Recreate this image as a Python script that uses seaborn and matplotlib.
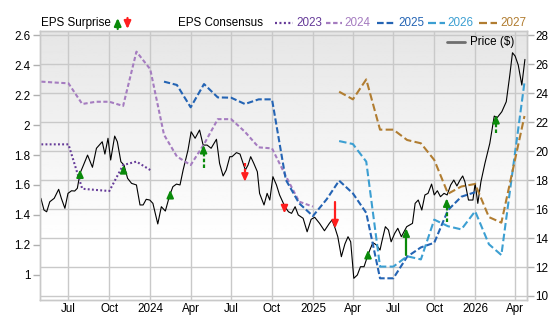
import numpy as np
import pandas as pd
import matplotlib
matplotlib.use('Agg')
import matplotlib.pyplot as plt
from matplotlib.lines import Line2D
import seaborn as sns

sns.set_style('white')
plt.rcParams['font.family'] = ['Liberation Sans', 'DejaVu Sans']
plt.rcParams['font.size'] = 8.4

# ---------------- data ----------------
price_dates = ['2023-04-30','2023-05-07','2023-05-13','2023-05-20','2023-05-30','2023-06-09','2023-06-15','2023-06-23','2023-06-30',
 '2023-07-08','2023-07-15','2023-07-21','2023-07-27','2023-08-03','2023-08-13','2023-08-24','2023-09-02','2023-09-15','2023-09-21','2023-09-28',
 '2023-10-04','2023-10-13','2023-10-19','2023-10-27','2023-11-03','2023-11-11','2023-11-20','2023-12-01','2023-12-09','2023-12-16','2023-12-23','2023-12-31',
 '2024-01-07','2024-01-18','2024-01-26','2024-02-04','2024-02-14','2024-02-21','2024-02-29','2024-03-08','2024-03-15','2024-03-26',
 '2024-04-02','2024-04-11','2024-04-21','2024-04-29','2024-05-08','2024-05-17','2024-05-29','2024-06-05','2024-06-13','2024-06-20','2024-06-28',
 '2024-07-03','2024-07-13','2024-07-21','2024-07-28','2024-08-02','2024-08-08','2024-08-14','2024-08-21','2024-08-29',
 '2024-09-03','2024-09-13','2024-09-20','2024-09-26','2024-10-03','2024-10-11','2024-10-18','2024-10-30',
 '2024-11-07','2024-11-14','2024-11-22','2024-11-29','2024-12-10','2024-12-19','2024-12-28',
 '2025-01-05','2025-01-16','2025-01-27','2025-02-07','2025-02-13','2025-02-20','2025-02-26','2025-03-06','2025-03-14','2025-03-21','2025-03-27',
 '2025-04-03','2025-04-11','2025-04-18','2025-04-26','2025-05-01','2025-05-09','2025-05-16','2025-05-24',
 '2025-06-01','2025-06-05','2025-06-13','2025-06-20','2025-06-26','2025-07-04','2025-07-11','2025-07-19','2025-07-23','2025-07-31',
 '2025-08-07','2025-08-13','2025-08-19','2025-08-26','2025-09-03','2025-09-10','2025-09-17','2025-09-25',
 '2025-10-01','2025-10-08','2025-10-15','2025-10-23','2025-10-30','2025-11-07','2025-11-14','2025-11-21','2025-11-28',
 '2025-12-04','2025-12-09','2025-12-17','2025-12-27','2026-01-01','2026-01-07','2026-01-14','2026-01-23',
 '2026-02-03','2026-02-13','2026-02-20','2026-03-02','2026-03-12','2026-03-20','2026-03-26','2026-04-01','2026-04-08','2026-04-16','2026-04-23']
price_values = [16.74, 15.93, 15.81, 16.5, 16.74, 17.36, 16.74, 16.05, 17.08, 17.26,
 17.24, 17.43, 18.46, 18.97, 19.72, 18.88, 20.19, 20.64, 19.79, 20.88,
 19.38, 21.03, 20.64, 19.26, 19.03, 18.12, 17.77, 17.66, 16.28, 16.28,
 16.67, 16.62, 16.39, 14.97, 16.16, 15.86, 16.97, 17.54, 17.72, 17.66,
 18.69, 20.07, 21.33, 20.88, 21.45, 20.41, 20.41, 20.19, 20.81, 19.15,
 18.28, 18.69, 19.61, 19.61, 19.89, 19.79, 19.15, 18.69, 19.03, 19.61,
 19.15, 18.57, 17.08, 16.28, 17.08, 16.62, 18.23, 17.66, 16.97, 16.16,
 15.81, 15.70, 16.16, 15.59, 15.36, 14.43, 15.29, 15.43, 15.01, 14.50,
 15.01, 15.24, 14.67, 14.09, 12.71, 13.59, 14.09, 13.74, 11.22, 11.45,
 12.02, 12.02, 12.48, 13.17, 13.68, 13.52, 13.17, 13.74, 14.78, 14.55,
 13.74, 14.32, 14.67, 14.09, 14.32, 14.78, 14.90, 15.01, 16.39, 16.62,
 15.93, 16.97, 17.08, 17.72, 16.97, 17.26, 16.85, 17.08, 16.97, 17.66,
 18.0, 17.59, 18.0, 18.28, 17.88, 16.62, 16.62, 17.77, 16.39, 17.88,
 19.15, 20.53, 22.41, 22.32, 22.71, 23.40, 25.24, 26.78, 26.55, 25.93,
 24.55, 26.32]

dates_2023 = ['2023-05-01','2023-06-01','2023-07-01','2023-08-01','2023-09-01','2023-10-01','2023-11-01','2023-12-01','2024-01-01']
eps_2023 = [1.871, 1.871, 1.871, 1.575, 1.567, 1.56, 1.733, 1.756, 1.70]

dates_2024 = ['2023-05-01','2023-06-01','2023-07-01','2023-08-01','2023-09-01','2023-10-01','2023-11-01','2023-12-01',
              '2024-01-01','2024-02-01','2024-03-01','2024-04-01','2024-05-01','2024-06-01','2024-07-01','2024-08-01',
              '2024-09-01','2024-10-01','2024-11-01','2024-12-01','2025-01-01']
eps_2024 = [2.289, 2.283, 2.278, 2.14, 2.155, 2.155, 2.127, 2.489, 2.372, 1.935, 1.79, 1.733, 1.872, 2.039, 2.039,
            1.955, 1.851, 1.844, 1.66, 1.489, 1.456]

dates_2025 = ['2024-02-01','2024-03-01','2024-04-01','2024-05-01','2024-06-01','2024-07-01','2024-08-01','2024-09-01',
              '2024-10-01','2024-11-01','2024-12-01','2025-01-01','2025-02-01','2025-03-01','2025-04-01','2025-05-01',
              '2025-06-01','2025-07-01','2025-08-01','2025-09-01','2025-10-01','2025-11-01','2025-12-01','2026-01-01']
eps_2025 = [2.289, 2.267, 2.118, 2.273, 2.184, 2.182, 2.14, 2.171, 2.171, 1.635, 1.478, 1.393, 1.505, 1.629, 1.544,
            1.414, 0.978, 0.978, 1.122, 1.184, 1.215, 1.433, 1.522, 1.552]

dates_2026 = ['2025-03-01','2025-04-01','2025-05-01','2025-06-01','2025-07-01','2025-08-01','2025-09-01','2025-10-01',
              '2025-11-01','2025-12-01','2026-01-01','2026-02-01','2026-03-01','2026-04-22']
eps_2026 = [1.893, 1.873, 1.756, 1.056, 1.056, 1.125, 1.104, 1.369, 1.325, 1.304, 1.425, 1.205, 1.133, 2.285]

dates_2027 = dates_2026
eps_2027 = [2.222, 2.171, 2.304, 1.969, 1.969, 1.90, 1.878, 1.767, 1.542, 1.59, 1.607, 1.386, 1.349, 2.06]

# EPS surprise arrows: date, tail value, head value
surprise_dates = ['2023-07-27','2023-11-02','2024-02-15','2024-04-30','2024-08-01','2024-10-29',
                  '2025-02-20','2025-05-05','2025-07-30','2025-10-29','2026-02-17']
surprise_tail = [1.647, 1.678, 1.511, 1.711, 1.744, 1.467, 1.489, 1.122, 1.133, 1.356, 1.944]
surprise_head = [1.704, 1.733, 1.567, 1.867, 1.622, 1.411, 1.311, 1.167, 1.311, 1.511, 2.067]
surprise_solid = [False, False, False, False, False, False, True, False, True, False, False]

xtick_dates = ['2023-07-01','2023-10-01','2024-01-01','2024-04-01','2024-07-01','2024-10-01',
               '2025-01-01','2025-04-01','2025-07-01','2025-10-01','2026-01-01','2026-04-01']
xtick_labels = ['Jul','Oct','2024','Apr','Jul','Oct','2025','Apr','Jul','Oct','2026','Apr']
eps_ticks = [1.0, 1.2, 1.4, 1.6, 1.8, 2.0, 2.2, 2.4, 2.6]
eps_tick_labels = ['1', '1.2', '1.4', '1.6', '1.8', '2', '2.2', '2.4', '2.6']
price_ticks = [10, 12, 14, 16, 18, 20, 22, 24, 26, 28]
years = ['2023', '2024', '2025', '2026', '2027']

# ---------------- styles ----------------
col = {'2023': '#653a98', '2024': '#a57cc0', '2025': '#2464b4', '2026': '#3c9fd2', '2027': '#b17d31'}
lstyle = {'2023': (0, (0.9, 1.1)), '2024': (0, (2.0, 1.2)), '2025': (0, (3.0, 1.3)),
          '2026': (0, (3.6, 1.6)), '2027': (0, (3.6, 1.6))}
GREEN = '#0a8a0a'
RED = '#ff1e1e'
GRID = '#c9c9c9'
ARROW = '-|>,head_length=0.45,head_width=0.2'

W, H = 556, 315
fig = plt.figure(figsize=(W / 100, H / 100), dpi=100)
L, R, T, B = 40, 526.7, 31, 300
pos = [L / W, (H - B) / H, (R - L) / W, (B - T) / H]

# gradient background
bg = fig.add_axes(pos, zorder=-1)
bg.axis('off')
t = np.linspace(0, 1, 256)
g = 0.90 + 0.10 * np.clip(t / 0.78, 0, 1)
bg.imshow(g[:, None], aspect='auto', cmap='gray', vmin=0, vmax=1, extent=[0, 1, 0, 1])
bg.set_xlim(0, 1); bg.set_ylim(0, 1)

ax_p = fig.add_axes(pos)
ax_p.patch.set_visible(False)

dfp = pd.DataFrame({'date': pd.to_datetime(price_dates), 'price': price_values})
sns.lineplot(data=dfp, x='date', y='price', ax=ax_p, color='black', linewidth=0.8,
             estimator=None, sort=False, legend=False, zorder=3)

ax_e = ax_p.twinx()
ax_p.yaxis.tick_right()
ax_e.yaxis.tick_left()

eps_sets = {'2023': (dates_2023, eps_2023), '2024': (dates_2024, eps_2024), '2025': (dates_2025, eps_2025),
            '2026': (dates_2026, eps_2026), '2027': (dates_2027, eps_2027)}
for y in years:
    d, v = eps_sets[y]
    df = pd.DataFrame({'date': pd.to_datetime(d), 'eps': v})
    sns.lineplot(data=df, x='date', y='eps', ax=ax_e, color=col[y], linewidth=1.5,
                 linestyle=lstyle[y], estimator=None, sort=False, legend=False)

# surprise arrows
HEAD = 0.036
for d, tl, hd, solid in zip(surprise_dates, surprise_tail, surprise_head, surprise_solid):
    dt = pd.Timestamp(d)
    c = GREEN if hd > tl else RED
    sgn = 1 if hd > tl else -1
    base = hd - sgn * HEAD
    if (base - tl) * sgn > 0:
        ax_e.plot([dt, dt], [tl, base], color=c, lw=1.6,
                  linestyle='-' if solid else (0, (1.6, 1.0)), zorder=5)
    ax_e.annotate('', xy=(dt, hd), xytext=(dt, base - sgn * 0.004),
                  arrowprops=dict(arrowstyle=ARROW, color=c, lw=1.4, shrinkA=0, shrinkB=0,
                                  mutation_scale=10),
                  zorder=6)

# axes limits / ticks
xmin, xmax = pd.Timestamp('2023-04-28'), pd.Timestamp('2026-04-27')
ax_p.set_xlim(xmin, xmax)
ax_e.set_xlim(xmin, xmax)
ax_e.set_ylim(0.8333, 2.6267)
ax_p.set_ylim(9.724, 28.28)

ax_p.set_xticks(pd.to_datetime(xtick_dates))
ax_p.set_xticklabels(xtick_labels)
ax_p.set_yticks(price_ticks)
ax_p.set_yticklabels([str(v) for v in price_ticks])
ax_e.set_yticks(eps_ticks)
ax_e.set_yticklabels(eps_tick_labels)

for a in (ax_p, ax_e):
    a.set_xlabel('')
    a.set_ylabel('')
    for s in a.spines.values():
        s.set_color(GRID)
        s.set_linewidth(1.0)

ax_p.grid(True, color=GRID, linewidth=1.0)
ax_p.set_axisbelow(True)
ax_e.grid(False)
ax_p.tick_params(axis='x', length=0, pad=2.5, labelsize=8.4, labelcolor='black')
ax_p.tick_params(axis='y', length=5, width=1, color='#b0b0b0', pad=1.2, labelsize=8.4,
                 labelcolor='black', right=True, left=False, labelright=True, labelleft=False)
ax_e.tick_params(axis='y', length=5, width=1, color='#b0b0b0', pad=2.0, labelsize=8.4,
                 labelcolor='black', left=True, right=False, labelleft=True, labelright=False)

# ---------------- top legend ----------------
def fx(x):
    return x / W

def fy(y):
    return (H - y) / H

yc = 23.3
fig.text(fx(40.7), fy(yc), 'EPS Surprise', ha='left', va='center', fontsize=8.4, color='black')
ax_e.annotate('', xy=(117.7, H - 18.0), xytext=(117.7, H - 29.0), xycoords='figure pixels',
              arrowprops=dict(arrowstyle=ARROW, color=GREEN, lw=1.6,
                              shrinkA=0, shrinkB=0, mutation_scale=10), annotation_clip=False)
ax_e.annotate('', xy=(127.5, H - 29.0), xytext=(127.5, H - 18.0), xycoords='figure pixels',
              arrowprops=dict(arrowstyle=ARROW, color=RED, lw=1.6,
                              shrinkA=0, shrinkB=0, mutation_scale=10), annotation_clip=False)
fig.text(fx(177.7), fy(yc), 'EPS Consensus', ha='left', va='center', fontsize=8.4, color='black')
leg_line_x = {'2023': (275, 292.7, 296), '2024': (326, 341.7, 344), '2025': (376.7, 395, 398.3),
              '2026': (428.3, 445, 447.7), '2027': (479.3, 496.7, 500)}
for y in years:
    x0, x1, xt = leg_line_x[y]
    fig.add_artist(Line2D([fx(x0), fx(x1)], [fy(yc), fy(yc)], transform=fig.transFigure,
                          color=col[y], lw=1.6, linestyle=lstyle[y]))
    fig.text(fx(xt), fy(yc), y, ha='left', va='center', fontsize=8.4, color=col[y])

# price legend
fig.add_artist(Line2D([fx(446.7), fx(465)], [fy(41.7), fy(41.7)], transform=fig.transFigure,
                      color='#6e6e6e', lw=2.0))
fig.text(fx(470), fy(41.7), 'Price ($)', ha='left', va='center', fontsize=8.4, color='black')

fig.savefig('out.png', dpi=100)
